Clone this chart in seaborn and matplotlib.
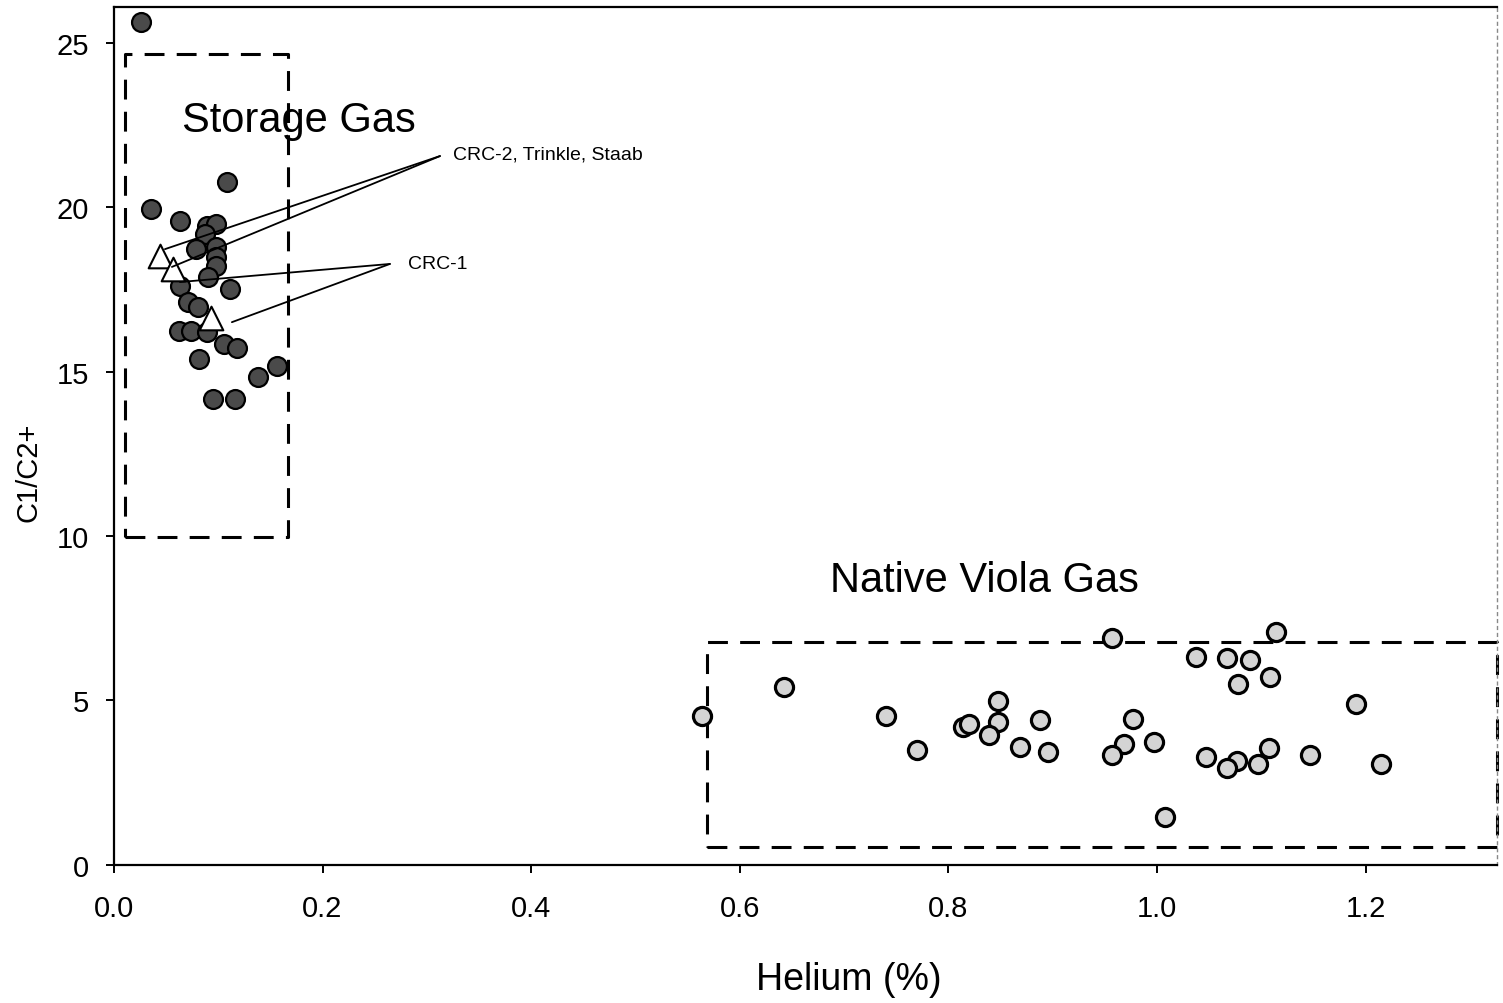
import pandas as pd
import matplotlib
matplotlib.use("Agg")
import matplotlib.pyplot as plt
import seaborn as sns

# storage gas samples (dark circles)
storage_he = [0.026, 0.036, 0.063, 0.089, 0.098, 0.087, 0.079, 0.098, 0.098, 0.098,
              0.090, 0.063, 0.111, 0.071, 0.081, 0.062, 0.074, 0.089, 0.106, 0.118,
              0.082, 0.156, 0.138, 0.095, 0.116, 0.108]
storage_ratio = [25.62, 19.94, 19.58, 19.43, 19.48, 19.18, 18.72, 18.77, 18.47, 18.21,
                 17.86, 17.61, 17.51, 17.10, 16.95, 16.24, 16.24, 16.19, 15.84, 15.73,
                 15.38, 15.17, 14.82, 14.16, 14.16, 20.75]

# native viola gas samples (light circles)
native_he = [0.5635, 0.642, 0.740, 0.770, 0.8137, 0.820, 0.848, 0.848, 0.839, 0.869,
             0.888, 0.896, 0.9565, 0.977, 0.968, 0.957, 0.997, 1.008, 1.037, 1.067,
             1.089, 1.078, 1.108, 1.114, 1.047, 1.077, 1.067, 1.097, 1.107, 1.147,
             1.191, 1.215]
native_ratio = [4.54, 5.40, 4.54, 3.48, 4.19, 4.29, 4.99, 4.36, 3.95, 3.60,
                4.40, 3.44, 6.89, 4.45, 3.67, 3.34, 3.75, 1.47, 6.33, 6.30,
                6.23, 5.50, 5.70, 7.09, 3.29, 3.15, 2.94, 3.07, 3.57, 3.34,
                4.89, 3.07]

# wells (open triangles)
well_he = [0.044, 0.057, 0.093]
well_ratio = [18.50, 18.12, 16.63]

# label callouts: text anchor and the two line ends
crc2_anchor = (0.3126, 21.55)
crc2_ends = [(0.0489, 18.72), (0.0556, 18.18)]
crc1_anchor = (0.2646, 18.27)
crc1_ends = [(0.0633, 17.72), (0.1131, 16.50)]

# field boxes (x0, x1, y0, y1)
storage_box = (0.0105, 0.1668, 9.97, 24.65)
native_box = (0.5686, 1.326, 0.547, 6.78)

storage = pd.DataFrame({"he": storage_he, "ratio": storage_ratio})
native = pd.DataFrame({"he": native_he, "ratio": native_ratio})
wells = pd.DataFrame({"he": well_he, "ratio": well_ratio})

sns.set_style("white")
plt.rcParams["font.family"] = ["Liberation Sans", "DejaVu Sans"]
plt.rcParams["text.color"] = "black"
plt.rcParams["axes.labelcolor"] = "black"
plt.rcParams["xtick.color"] = "black"
plt.rcParams["ytick.color"] = "black"

fig = plt.figure(figsize=(15.03, 10.04), dpi=100)
ax = fig.add_axes([0.0758, 0.1375, 0.9202, 0.8545])

# dashed boxes
dash = (0, (6.5, 4))
for x0, x1, y0, y1 in [storage_box, native_box]:
    ax.plot([x0, x1, x1, x0, x0], [y0, y0, y1, y1, y0], color="black", lw=2.2,
            linestyle=dash, zorder=1, clip_on=False)

sns.scatterplot(data=storage, x="he", y="ratio", ax=ax, s=185, color="#4a4a4a",
                edgecolor="black", linewidth=1.6, zorder=3)
sns.scatterplot(data=native, x="he", y="ratio", ax=ax, s=170, color="#d4d4d4",
                edgecolor="black", linewidth=2.3, zorder=3)
sns.scatterplot(data=wells, x="he", y="ratio", ax=ax, s=290, marker="^", color="white",
                edgecolor="black", linewidth=1.5, zorder=4)

# callout lines
for anchor, ends in [(crc2_anchor, crc2_ends), (crc1_anchor, crc1_ends)]:
    for end in ends:
        ax.plot([anchor[0], end[0]], [anchor[1], end[1]], color="black", lw=1.3, zorder=5)

narrow = ["Liberation Sans Narrow", "Liberation Sans"]
ax.text(0.325, 21.61, "CRC-2, Trinkle, Staab", fontsize=14, family=narrow, va="center")
ax.text(0.282, 18.27, "CRC-1", fontsize=14, family=narrow, va="center")
ax.text(0.065, 22.64, "Storage Gas", fontsize=30, va="center")
ax.text(0.6865, 8.66, "Native Viola Gas", fontsize=30, va="center")

ax.set_xlim(0, 1.326)
ax.set_ylim(0, 26.08)
ax.set_xticks([0.0, 0.2, 0.4, 0.6, 0.8, 1.0, 1.2])
ax.set_xticklabels(["0.0", "0.2", "0.4", "0.6", "0.8", "1.0", "1.2"])
ax.set_yticks([0, 5, 10, 15, 20, 25])

ax.set_xlabel("Helium (%)", fontsize=27)
ax.set_ylabel("C1/C2+", fontsize=21)
# label centres as placed in the original (figure pixels)
ax.xaxis.set_label_coords(849 / 1503, 1 - 980 / 1004, transform=fig.transFigure)
ax.yaxis.set_label_coords(28 / 1503, 1 - 472 / 1004, transform=fig.transFigure)
ax.xaxis.label.set_va("center")
ax.yaxis.label.set_va("center")

ax.tick_params(axis="both", direction="out", length=6, width=1.4, labelsize=21,
               bottom=True, left=True)
ax.tick_params(axis="x", pad=15)
ax.tick_params(axis="y", pad=12)

for side in ["left", "bottom", "top"]:
    ax.spines[side].set_color("black")
    ax.spines[side].set_linewidth(1.6)
ax.spines["right"].set_color("#888888")
ax.spines["right"].set_linewidth(1.0)
ax.spines["right"].set_linestyle((0, (2, 3)))

fig.savefig("out.png", dpi=100, facecolor="white")
